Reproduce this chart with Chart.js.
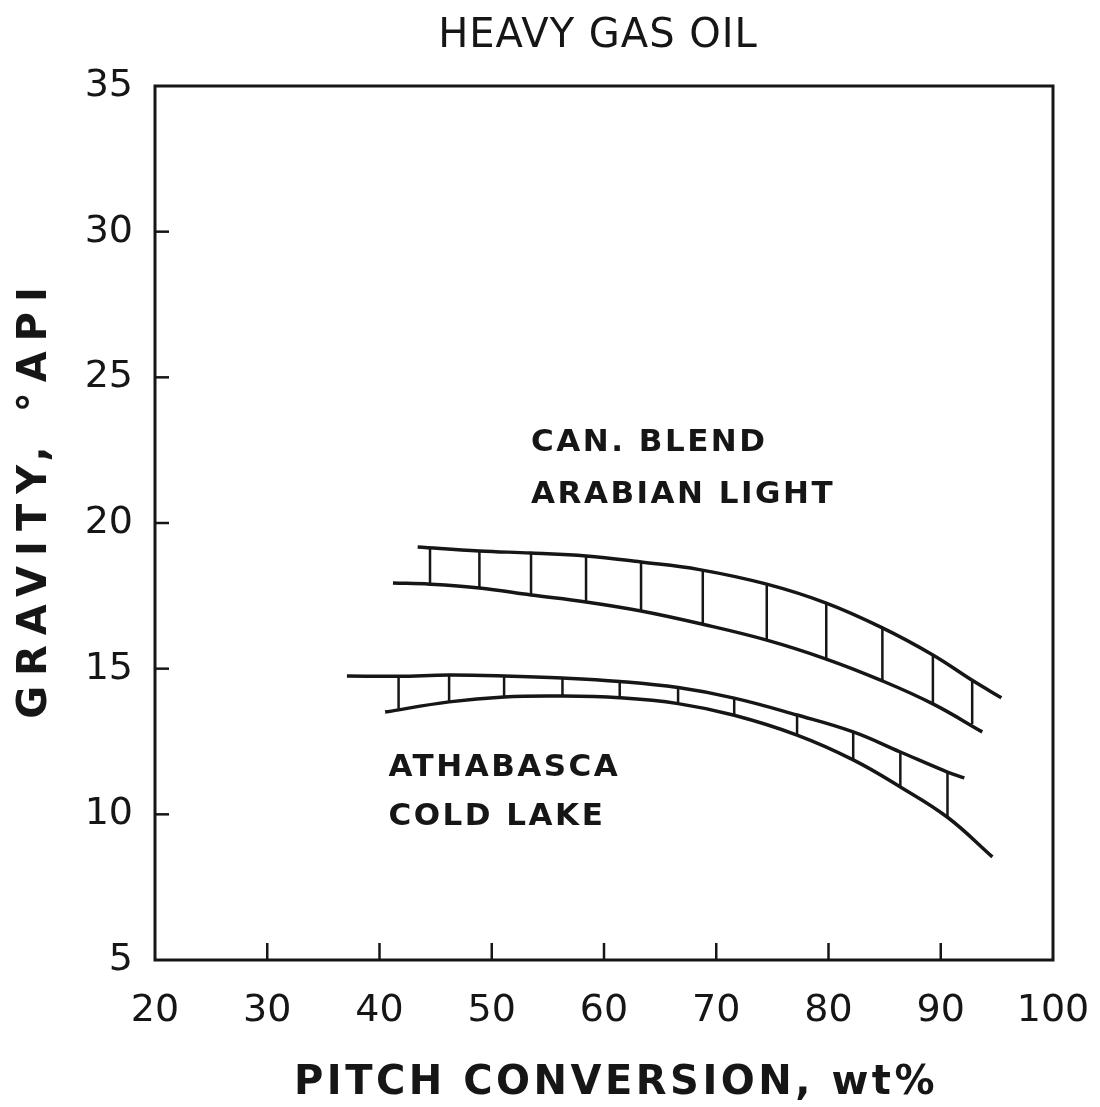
<!DOCTYPE html>
<html>
<head>
<meta charset="utf-8">
<script src="https://cdn.jsdelivr.net/npm/chart.js@4.4.0/dist/chart.umd.min.js"></script>
<style>
  html, body { margin: 0; padding: 0; background: #fff; }
  #wrap { width: 1100px; height: 1107px; }
</style>
</head>
<body>
<div id="wrap"><canvas id="chart" width="1100" height="1107"></canvas></div>
<script>
// axis ticks
const xTicks = [20, 30, 40, 50, 60, 70, 80, 90, 100];
const yTicks = [5, 10, 15, 20, 25, 30, 35];

// Can. Blend / Arabian Light band
const upperTopX = [43.4, 48.9, 53.5, 58.4, 63.3, 68.5, 74.5, 79.8, 84.8, 89.3, 92.8, 95.4];
const upperTopY = [19.18, 19.04, 18.97, 18.87, 18.66, 18.4, 17.9, 17.25, 16.4, 15.47, 14.6, 14.0];
const upperBotX = [41.2, 44.5, 48.9, 53.5, 58.4, 63.3, 68.5, 74.5, 79.8, 84.8, 89.3, 93.7];
const upperBotY = [17.94, 17.9, 17.77, 17.53, 17.29, 16.98, 16.55, 15.98, 15.33, 14.58, 13.79, 12.83];
const upperRungX = [44.5, 48.9, 53.5, 58.4, 63.3, 68.8, 74.5, 79.8, 84.8, 89.3, 92.8];
const upperRungTop = [19.15, 19.04, 18.97, 18.87, 18.66, 18.4, 17.9, 17.25, 16.4, 15.47, 14.6];
const upperRungBot = [17.9, 17.77, 17.53, 17.29, 16.98, 16.52, 15.98, 15.33, 14.58, 13.79, 13.1];

// Athabasca / Cold Lake band
const lowerTopX = [37.1, 41.7, 46.2, 51.1, 56.3, 61.4, 66.6, 71.6, 77.2, 82.2, 86.4, 90.6, 92.1];
const lowerTopY = [14.75, 14.74, 14.78, 14.75, 14.68, 14.56, 14.35, 13.99, 13.41, 12.83, 12.14, 11.45, 11.25];
const lowerBotX = [40.5, 46.2, 51.1, 56.3, 61.4, 66.6, 71.6, 77.2, 82.2, 86.4, 90.6, 94.6];
const lowerBotY = [13.51, 13.86, 14.03, 14.06, 14.0, 13.8, 13.4, 12.72, 11.87, 10.94, 9.9, 8.54];
const lowerRungX = [41.7, 46.2, 51.1, 56.3, 61.4, 66.6, 71.6, 77.2, 82.2, 86.4, 90.6];
const lowerRungTop = [14.74, 14.78, 14.75, 14.68, 14.56, 14.35, 13.99, 13.41, 12.83, 12.14, 11.45];
const lowerRungBot = [13.62, 13.86, 14.03, 14.06, 14.0, 13.8, 13.4, 12.72, 11.87, 10.94, 9.9];

// labels inside the plot (data coords)
const bandLabels = [
    { text: 'CAN. BLEND', x: 53.5, y: 22.75 },
    { text: 'ARABIAN LIGHT', x: 53.5, y: 20.96 },
    { text: 'ATHABASCA', x: 40.8, y: 11.6 },
    { text: 'COLD LAKE', x: 40.8, y: 9.9 }
];

const INK = '#161616';

const toPoints = (xs, ys) => xs.map((x, i) => ({ x: x, y: ys[i] }));
const toRungs = (xs, tops, bots) => {
    const pts = [];
    xs.forEach((x, i) => {
        pts.push({ x: x, y: tops[i] });
        pts.push({ x: x, y: bots[i] });
        pts.push({ x: x, y: null });
    });
    return pts;
};

const curve = (pts) => ({
    data: pts,
    borderColor: INK,
    borderWidth: 3.5,
    pointRadius: 0,
    tension: 0.4,
    fill: false
});
const rungs = (pts) => ({
    data: pts,
    borderColor: INK,
    borderWidth: 2.5,
    pointRadius: 0,
    tension: 0,
    spanGaps: false,
    fill: false
});

// box, inside ticks, titles, band labels
const framePlugin = {
    id: 'frame',
    afterDraw(chart) {
        const { ctx, chartArea: a, scales } = chart;
        ctx.save();
        ctx.strokeStyle = INK;
        ctx.lineWidth = 3;
        ctx.strokeRect(a.left, a.top, a.right - a.left, a.bottom - a.top);

        ctx.lineWidth = 2.5;
        xTicks.slice(1, -1).forEach(v => {
            const px = scales.x.getPixelForValue(v);
            ctx.beginPath();
            ctx.moveTo(px, a.bottom);
            ctx.lineTo(px, a.bottom - 17);
            ctx.stroke();
        });
        yTicks.slice(1, -1).forEach(v => {
            const py = scales.y.getPixelForValue(v);
            ctx.beginPath();
            ctx.moveTo(a.left, py);
            ctx.lineTo(a.left + 14, py);
            ctx.stroke();
        });

        ctx.fillStyle = INK;
        ctx.textBaseline = 'middle';
        ctx.textAlign = 'center';

        // chart title
        ctx.font = '40px "DejaVu Sans"';
        ctx.letterSpacing = '1px';
        ctx.fillText('HEAVY GAS OIL', 598, 37);

        // x axis title
        ctx.font = 'bold 40px "DejaVu Sans"';
        ctx.letterSpacing = '3.5px';
        ctx.fillText('PITCH CONVERSION, wt%', 616, 1084);

        // y axis title
        ctx.save();
        ctx.translate(36, 503);
        ctx.rotate(-Math.PI / 2);
        ctx.letterSpacing = '10px';
        ctx.fillText('GRAVITY, °API', 5, 0);
        ctx.restore();

        ctx.font = 'bold 31px "DejaVu Sans"';
        ctx.letterSpacing = '2.5px';
        ctx.textAlign = 'left';
        bandLabels.forEach(l => {
            ctx.fillText(l.text, scales.x.getPixelForValue(l.x), scales.y.getPixelForValue(l.y));
        });
        ctx.restore();
    }
};

const ctx = document.getElementById('chart').getContext('2d');
new Chart(ctx, {
    type: 'line',
    data: {
        datasets: [
            curve(toPoints(upperTopX, upperTopY)),
            curve(toPoints(upperBotX, upperBotY)),
            rungs(toRungs(upperRungX, upperRungTop, upperRungBot)),
            curve(toPoints(lowerTopX, lowerTopY)),
            curve(toPoints(lowerBotX, lowerBotY)),
            rungs(toRungs(lowerRungX, lowerRungTop, lowerRungBot))
        ]
    },
    options: {
        responsive: false,
        animation: false,
        layout: { padding: { top: 86, right: 47, left: 0, bottom: 0 } },
        plugins: {
            legend: { display: false },
            tooltip: { enabled: false }
        },
        scales: {
            x: {
                type: 'linear',
                min: 20, max: 100,
                afterBuildTicks: (s) => { s.ticks = xTicks.map(v => ({ value: v })); },
                afterFit: (s) => { s.height = 147; s.paddingLeft = 0; s.paddingRight = 0; },
                grid: { display: false },
                border: { display: false },
                ticks: {
                    color: INK,
                    padding: 20,
                    font: { family: 'DejaVu Sans', size: 38 }
                }
            },
            y: {
                type: 'linear',
                min: 5, max: 35,
                afterBuildTicks: (s) => { s.ticks = yTicks.map(v => ({ value: v })); },
                afterFit: (s) => { s.width = 155; s.paddingTop = 0; s.paddingBottom = 0; },
                grid: { display: false },
                border: { display: false },
                ticks: {
                    color: INK,
                    padding: 14,
                    font: { family: 'DejaVu Sans', size: 38 }
                }
            }
        }
    },
    plugins: [framePlugin]
});
</script>
</body>
</html>
